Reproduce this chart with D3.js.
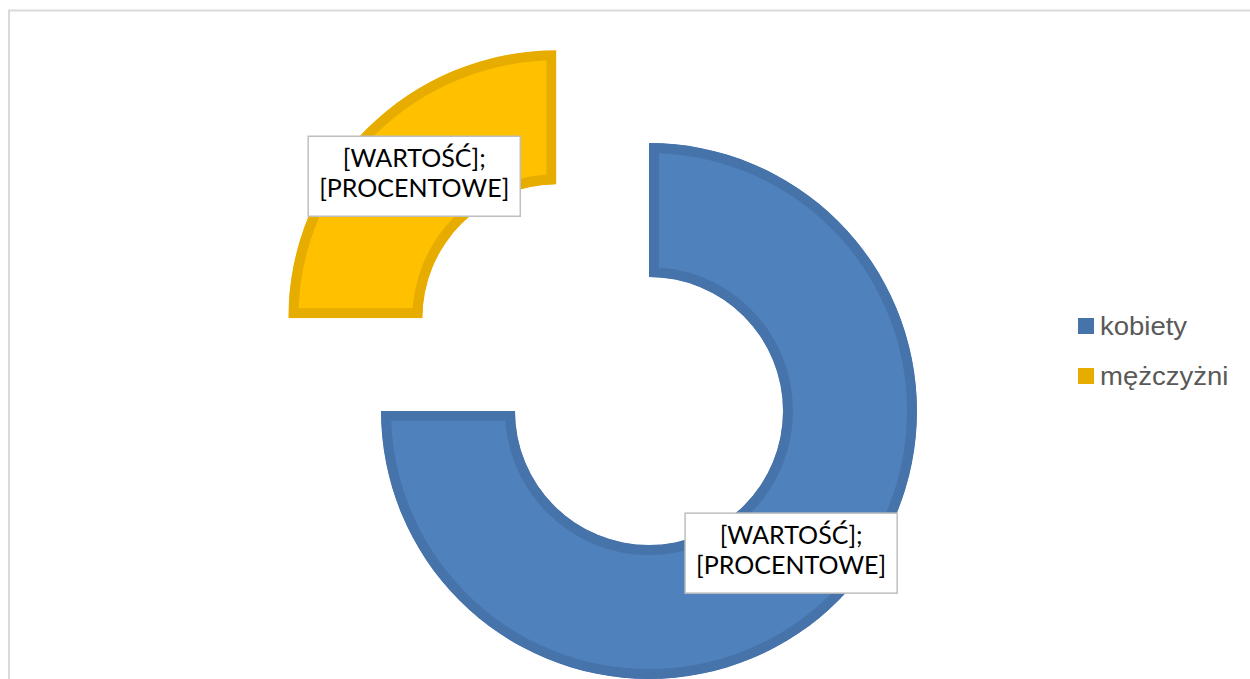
<!DOCTYPE html>
<html>
<head>
<meta charset="utf-8" />
<title>Donut - kobiety / mężczyżni</title>
<script src="https://d3js.org/d3.v7.min.js"></script>
<style>
    body { margin: 0; background: #fff; }
    svg { display: block; }
    .legend text { font-family: "Liberation Sans", Arial, sans-serif; font-size: 25px; fill: #595959; }
    .dlabel text { font-family: Lato, "Open Sans", sans-serif; font-size: 25px; fill: #000; }
</style>
</head>
<body>
<div id="chart"></div>
<script>
    //Data
    const categories = ["kobiety", "mężczyżni"];
    const values = [75, 25];
    const labelLines = ["[WARTOŚĆ];", "[PROCENTOWE]"];
    const exploded = [0, 131];

    //Variables
    const w = 1250;
    const h = 679;
    const cx = 649;
    const cy = 411;
    const rOuter = 268;
    const rInner = 134;

    const fills = ["#4f81bd", "#ffc000"];
    const borders = ["#4673aa", "#e6ac00"];

    const svg = d3.select("#chart")
        .append("svg")
        .attr("width", w)
        .attr("height", h);

    //chart frame
    svg.append("rect")
        .attr("x", 9)
        .attr("y", 10.5)
        .attr("width", w + 20)
        .attr("height", h + 20)
        .attr("fill", "none")
        .attr("stroke", "#d9d9d9")
        .attr("stroke-width", 2);

    const pie = d3.pie().sort(null).value(d => d);
    const arcs = pie(values);
    const arc = d3.arc().innerRadius(rInner).outerRadius(rOuter);

    //offset for exploded slices
    function shift(d, i) {
        const a = (d.startAngle + d.endAngle) / 2;
        return [Math.sin(a) * exploded[i], -Math.cos(a) * exploded[i]];
    }

    const g = svg.append("g").attr("transform", "translate(" + cx + "," + cy + ")");
    const defs = svg.append("defs");

    arcs.forEach((d, i) => {
        const [dx, dy] = shift(d, i);
        defs.append("clipPath")
            .attr("id", "clip" + i)
            .append("path")
            .attr("d", arc(d));

        //inner border: stroke twice as wide, clipped to the slice
        g.append("g")
            .attr("transform", "translate(" + dx + "," + dy + ")")
            .append("path")
            .attr("d", arc(d))
            .attr("fill", fills[i])
            .attr("stroke", borders[i])
            .attr("stroke-width", 20)
            .attr("clip-path", "url(#clip" + i + ")");
    });

    //Data labels
    arcs.forEach((d, i) => {
        const [dx, dy] = shift(d, i);
        const c = arc.centroid(d);
        const lg = g.append("g")
            .attr("class", "dlabel")
            .attr("transform", "translate(" + (c[0] + dx) + "," + (c[1] + dy) + ")");
        const box = lg.append("rect")
            .attr("fill", "#fff")
            .attr("stroke", "#bfbfbf")
            .attr("stroke-width", 1.5);
        const t = lg.append("text").attr("text-anchor", "middle");
        labelLines.forEach((s, k) => {
            t.append("tspan")
                .attr("x", 0)
                .attr("y", k == 0 ? -9 : 21)
                .text(s);
        });
        const bw = t.node().getBBox().width + 22;
        const bh = 80;
        box.attr("x", -bw / 2).attr("y", -bh / 2).attr("width", bw).attr("height", bh);
    });

    //Legend
    const legend = svg.append("g")
        .attr("class", "legend")
        .attr("transform", "translate(1078,318)");
    const item = legend.selectAll("g")
        .data(categories)
        .enter()
        .append("g")
        .attr("transform", (d, i) => "translate(0," + i * 50 + ")");
    item.append("rect")
        .attr("width", 16)
        .attr("height", 16)
        .attr("fill", (d, i) => borders[i]);
    item.append("text")
        .attr("transform", "translate(22,17) scale(1.1,1)")
        .text(d => d);
</script>
</body>
</html>
